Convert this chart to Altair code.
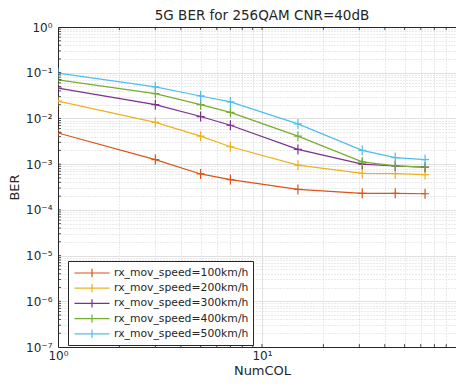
import altair as alt
import pandas as pd

numcol = [1, 3, 5, 7, 15, 31, 45, 63]
series_names = [
    "rx_mov_speed=100km/h",
    "rx_mov_speed=200km/h",
    "rx_mov_speed=300km/h",
    "rx_mov_speed=400km/h",
    "rx_mov_speed=500km/h",
]
ber_100 = [4.8e-3, 1.26e-3, 6.1e-4, 4.6e-4, 2.8e-4, 2.3e-4, 2.3e-4, 2.25e-4]
ber_200 = [2.4e-2, 8.2e-3, 4.1e-3, 2.4e-3, 9.5e-4, 6.3e-4, 6.2e-4, 5.9e-4]
ber_300 = [4.6e-2, 2.0e-2, 1.1e-2, 7.1e-3, 2.1e-3, 1.0e-3, 9.1e-4, 8.6e-4]
ber_400 = [7.0e-2, 3.5e-2, 2.0e-2, 1.36e-2, 4.1e-3, 1.12e-3, 9.2e-4, 8.6e-4]
ber_500 = [9.8e-2, 4.9e-2, 3.1e-2, 2.3e-2, 7.6e-3, 2.0e-3, 1.39e-3, 1.26e-3]
colors = ["#D95319", "#EDB120", "#7E2F8E", "#77AC30", "#4DBEEE"]

x_ticks = [m * 10 ** e for e in range(0, 2) for m in range(1, 10)] + [100]
y_ticks = [m * 10.0 ** e for e in range(-7, 0) for m in range(1, 10)] + [1.0]
sup = {"0": "\u2070", "1": "\u00b9", "2": "\u00b2", "3": "\u00b3", "4": "\u2074",
       "5": "\u2075", "6": "\u2076", "7": "\u2077", "8": "\u2078", "9": "\u2079", "-": "\u207b"}

PLOT_W = 398      # visible part of the plot area
FULL_W = 408      # full decade span (1..100), right edge falls outside the picture
PLOT_H = 320


def exp_label(e):
    return "10" + "".join(sup[c] for c in str(e))


LG = "(log(datum.value)/LN10)"
IS_MINOR = f"abs({LG} - round({LG})) > 0.001"


def label_expr(exps):
    expr = "''"
    for e in exps:
        expr = f"round({LG}) == {e} ? '{exp_label(e)}' : ({expr})"
    return f"{IS_MINOR} ? '' : ({expr})"


rows = []
for name, vals in zip(series_names, [ber_100, ber_200, ber_300, ber_400, ber_500]):
    for x, y in zip(numcol, vals):
        rows.append({"NumCOL": x, "BER": y, "series": name})
df = pd.DataFrame(rows)
xt = pd.DataFrame({"NumCOL": x_ticks[1:-1]})
yt = pd.DataFrame({"BER": y_ticks[1:-1]})

grid_dash = {"condition": {"test": IS_MINOR, "value": [1, 2]}, "value": []}
grid_color_x = {"condition": {"test": IS_MINOR, "value": "#d4d4d4"}, "value": "#e0e0e0"}
grid_color_y = {"condition": [{"test": "datum.value >= 0.999", "value": "#262626"},
                              {"test": IS_MINOR, "value": "#d4d4d4"}],
                "value": "#e0e0e0"}

axis_common = dict(
    grid=True,
    gridDash=grid_dash,
    ticks=False,
    domain=True,
    domainColor="#262626",
    domainWidth=1,
    labelFlush=False,
    labelFont="DejaVu Sans",
    labelFontSize=12,
    labelColor="#262626",
    titleFont="DejaVu Sans",
    titleFontSize=13,
    titleFontWeight="normal",
    titleColor="#262626",
    labelOverlap=False,
)

xscale = alt.Scale(type="log", domain=[1, 100], nice=False, range=[0, FULL_W])
yscale = alt.Scale(type="log", domain=[1e-7, 1], nice=False)

plus_path = "M-0.8,0L0.8,0M0,-1L0,1"
legend_path = "M-2.5,0L2.5,0M0,-0.6L0,0.6"

lines = alt.Chart(df).mark_line(
    strokeWidth=1.2,
    clip=True,
    point=alt.OverlayMarkDef(shape=plus_path, filled=False, size=100, strokeWidth=1.2),
).encode(
    x=alt.X("NumCOL:Q", scale=xscale,
            axis=alt.Axis(values=x_ticks, labelExpr=label_expr([0, 1, 2]),
                          gridColor=grid_color_x,
                          labelPadding=3, titlePadding=3, **axis_common),
            title="NumCOL"),
    y=alt.Y("BER:Q", scale=yscale,
            axis=alt.Axis(values=y_ticks, labelExpr=label_expr(list(range(-7, 1))),
                          gridColor=grid_color_y,
                          labelPadding=6, titlePadding=4, **axis_common),
            title="BER"),
    color=alt.Color("series:N",
                    scale=alt.Scale(domain=series_names, range=colors),
                    legend=alt.Legend(
                        title=None, orient="none", legendX=10, legendY=234,
                        symbolType=legend_path, symbolSize=196, symbolStrokeWidth=1.2,
                        symbolOffset=12, labelOffset=14,
                        labelFont="DejaVu Sans", labelFontSize=10.8, labelColor="#262626",
                        strokeColor="#262626", fillColor="white", padding=4,
                        rowPadding=0.2,
                    )),
)

tick_len = 3
bottom_ticks = alt.Chart(xt).mark_rule(color="#262626", strokeWidth=0.8).encode(
    x=alt.X("NumCOL:Q", scale=xscale, title="NumCOL"),
    y=alt.value(PLOT_H), y2=alt.value(PLOT_H - tick_len))
top_ticks = alt.Chart(xt).mark_rule(color="#262626", strokeWidth=0.8).encode(
    x=alt.X("NumCOL:Q", scale=xscale, title="NumCOL"),
    y=alt.value(0), y2=alt.value(tick_len))
left_ticks = alt.Chart(yt).mark_rule(color="#262626", strokeWidth=0.8).encode(
    y=alt.Y("BER:Q", scale=yscale, title="BER"),
    x=alt.value(0), x2=alt.value(tick_len))

chart = alt.layer(lines, bottom_ticks, top_ticks, left_ticks).properties(
    width=PLOT_W,
    height=PLOT_H,
    title=alt.TitleParams("5G BER for 256QAM CNR=40dB", font="DejaVu Sans", fontSize=13.5,
                          fontWeight="normal", color="#262626", anchor="middle",
                          offset=-1, dx=5),
    autosize=alt.AutoSizeParams(type="none"),
    padding={"left": 50, "top": 19, "right": 0, "bottom": 35},
).configure_view(stroke=None)

chart.save("out.html", embed_options={"renderer": "svg", "actions": False})
